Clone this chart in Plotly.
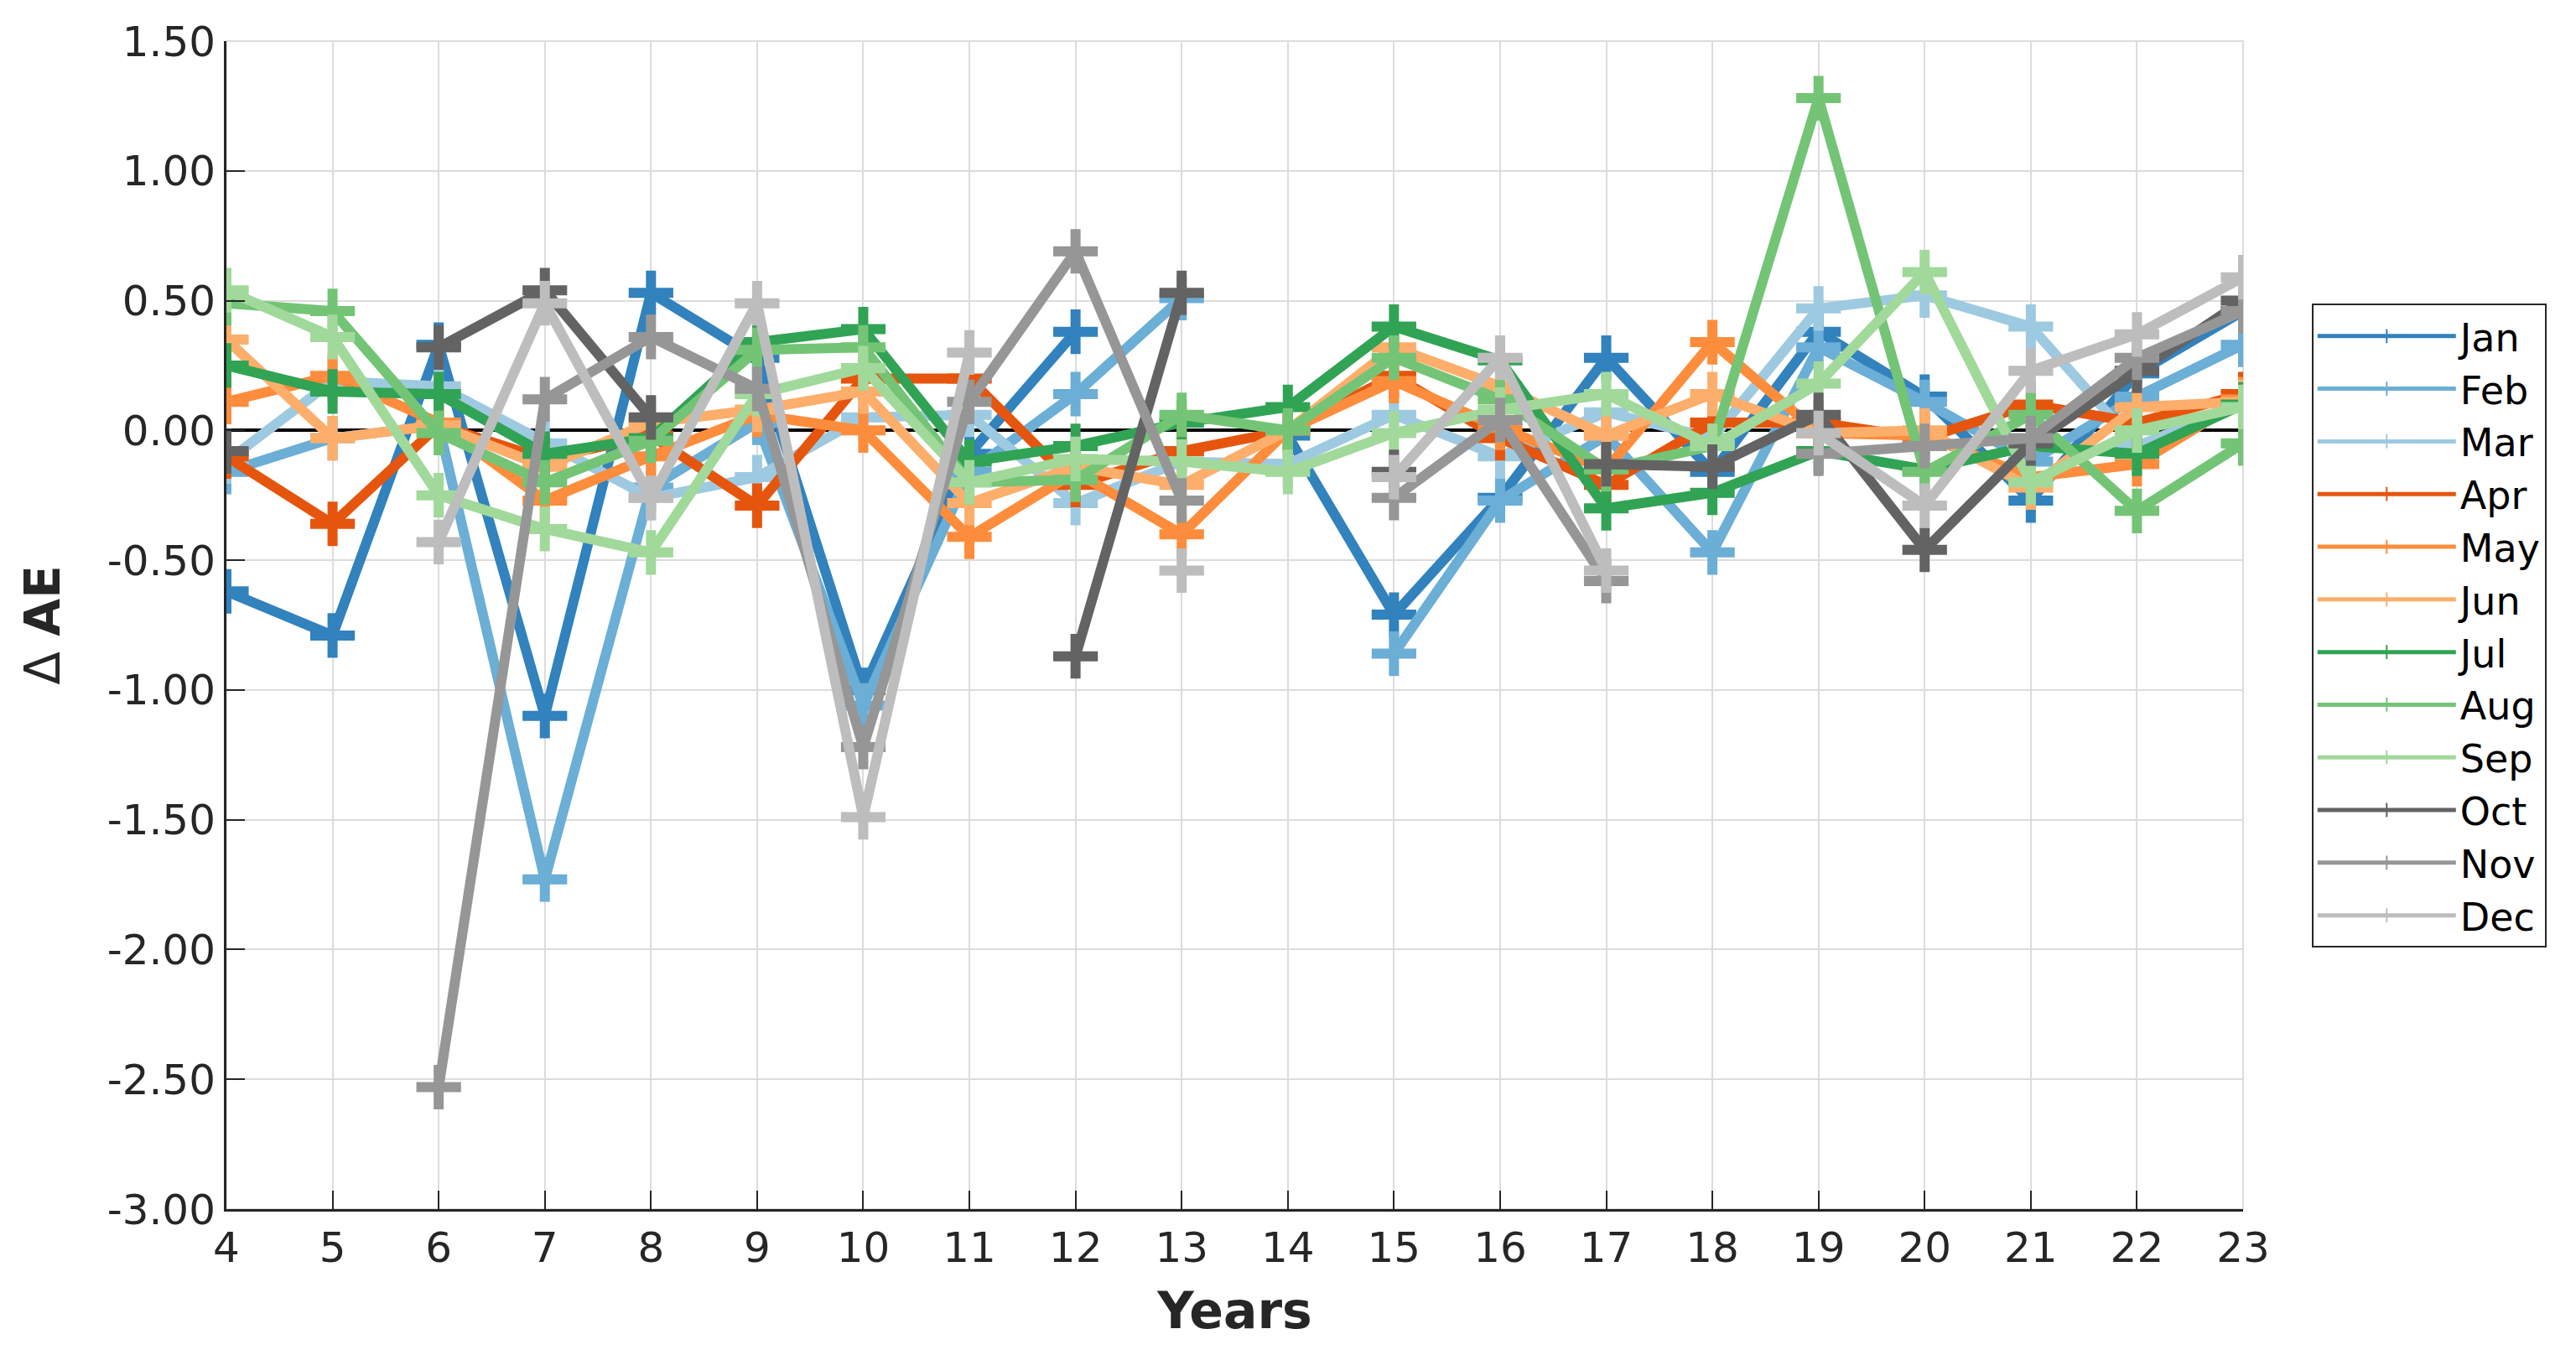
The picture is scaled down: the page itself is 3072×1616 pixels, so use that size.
import plotly.graph_objects as go

years = list(range(4, 24))
months = ["Jan", "Feb", "Mar", "Apr", "May", "Jun", "Jul", "Aug", "Sep", "Oct", "Nov", "Dec"]
N = None

jan = [-0.62, -0.79, 0.33, -1.10, 0.53, 0.28, -1.00, -0.09, 0.38, N, -0.02, -0.71, -0.26, 0.28, -0.16, 0.38, 0.13, -0.27, 0.22, 0.46]
feb = [-0.16, -0.03, 0.02, -1.73, -0.22, 0.03, -1.06, -0.16, 0.14, 0.51, N, -0.86, -0.27, -0.02, -0.47, 0.32, 0.11, -0.12, 0.13, 0.33]
mar = [-0.12, 0.19, 0.17, -0.05, -0.26, -0.18, 0.05, 0.06, -0.28, -0.12, -0.13, 0.06, -0.10, 0.07, -0.03, 0.47, 0.52, 0.40, -0.06, 0.10]
apr = [-0.10, -0.36, 0.02, -0.11, -0.02, -0.29, 0.20, 0.20, -0.21, -0.08, 0.00, 0.21, -0.03, -0.21, 0.03, 0.03, -0.03, 0.10, 0.03, 0.14]
may = [0.11, 0.21, 0.03, -0.27, -0.10, 0.06, 0.00, -0.41, -0.16, -0.40, 0.00, 0.19, 0.01, -0.15, 0.34, -0.01, -0.02, -0.18, -0.13, 0.12]
jun = [0.35, -0.03, 0.02, -0.14, 0.03, 0.08, 0.15, -0.28, -0.14, -0.21, 0.00, 0.32, 0.17, -0.02, 0.14, -0.01, 0.00, -0.22, 0.09, 0.11]
jul = [0.25, 0.15, 0.14, -0.09, -0.03, 0.34, 0.39, -0.12, -0.06, 0.03, 0.09, 0.40, 0.27, -0.30, -0.24, -0.08, -0.15, -0.06, -0.09, 0.10]
aug = [0.49, 0.46, -0.01, -0.20, -0.04, 0.31, 0.32, -0.20, -0.19, 0.06, 0.00, 0.28, 0.12, -0.15, -0.06, 1.28, -0.16, 0.06, -0.31, -0.05]
sep = [0.54, 0.36, -0.25, -0.38, -0.47, 0.14, 0.24, -0.20, -0.11, -0.12, -0.16, -0.01, 0.08, 0.14, -0.06, 0.18, 0.61, -0.20, 0.00, 0.09]
oct_ = [-0.08, N, 0.32, 0.54, 0.05, N, N, N, -0.87, 0.53, N, -0.16, N, -0.13, -0.14, 0.06, -0.46, -0.05, 0.23, 0.50]
nov = [N, N, -2.53, 0.12, 0.36, 0.16, -1.22, 0.11, 0.69, -0.27, N, -0.26, 0.04, -0.58, N, -0.09, -0.06, -0.03, 0.28, 0.46]
dec = [N, N, -0.43, 0.49, -0.26, 0.49, -1.49, 0.30, N, -0.54, N, -0.18, 0.28, -0.54, N, -0.01, -0.29, 0.23, 0.37, 0.59]

series = [jan, feb, mar, apr, may, jun, jul, aug, sep, oct_, nov, dec]
colors = ["#3182bd", "#6baed6", "#9ecae1", "#e6550d", "#fd8d3c", "#fdae6b",
          "#31a354", "#74c476", "#a1d99b", "#636363", "#969696", "#bdbdbd"]

y_ticks = [-3.0, -2.5, -2.0, -1.5, -1.0, -0.5, 0.0, 0.5, 1.0, 1.5]

fig = go.Figure()
for name, vals, col in zip(months, series, colors):
    fig.add_trace(go.Scatter(
        x=years, y=vals, name=name, mode="lines+markers",
        connectgaps=False,
        line=dict(color=col, width=12),
        marker=dict(symbol="cross-thin", size=38, color=col,
                    line=dict(color=col, width=12)),
    ))

font_family = "DejaVu Sans"
fig.update_layout(
    width=3072, height=1616,
    margin=dict(l=262, r=405, t=36, b=182),
    paper_bgcolor="white", plot_bgcolor="white",
    font=dict(family=font_family, size=50, color="#262626"),
    showlegend=True,
    legend=dict(
        x=1.034, y=0.775, xanchor="left", yanchor="top",
        bordercolor="#262626", borderwidth=2,
        bgcolor="white",
        font=dict(family=font_family, size=46, color="#000000"),
        itemsizing="constant", tracegroupgap=0,
        itemwidth=165,
    ),
    shapes=[dict(type="rect", xref="paper", yref="paper", x0=0, y0=0, x1=1, y1=1,
                 line=dict(color="#dcdcdc", width=2), layer="below")],
)
fig.update_xaxes(
    range=[4, 23], tickmode="array", tickvals=years,
    ticktext=[str(y) for y in years],
    showgrid=True, gridcolor="#dcdcdc", gridwidth=2,
    showline=True, linecolor="#262626", linewidth=3,
    ticks="inside", ticklen=22, tickwidth=2, tickcolor="#262626",
    zeroline=False,
    title=dict(text="<b>Years</b>", font=dict(size=60, family=font_family, color="#262626"), standoff=26),
    tickfont=dict(size=50),
)
fig.update_yaxes(
    range=[-3.0, 1.5], tickmode="array", tickvals=y_ticks,
    ticktext=["%.2f" % v for v in y_ticks],
    showgrid=True, gridcolor="#dcdcdc", gridwidth=2,
    showline=True, linecolor="#262626", linewidth=3,
    ticks="inside", ticklen=22, tickwidth=2, tickcolor="#262626",
    zeroline=True, zerolinecolor="#000000", zerolinewidth=4,
    title=dict(text="Δ <b>AE</b>", font=dict(size=58, family=font_family, color="#262626"), standoff=38),
    tickfont=dict(size=50),
)

fig.write_html("out.html")
